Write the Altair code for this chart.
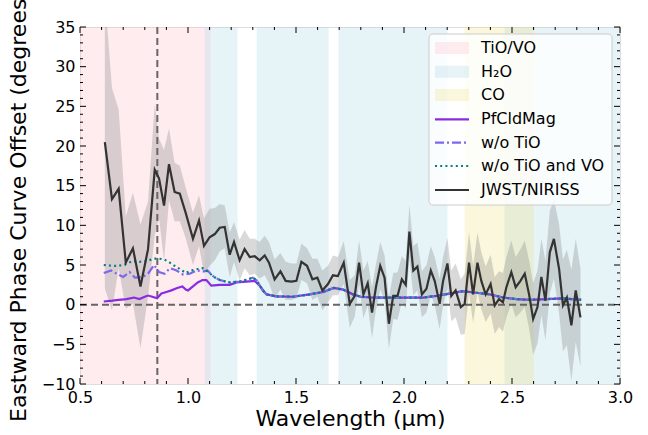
import altair as alt
import pandas as pd
import numpy as np

# ---------------- data ----------------
jwst_wl = [0.615, 0.648, 0.679, 0.712, 0.745, 0.780, 0.815, 0.846, 0.866, 0.889,
           0.912, 0.938, 0.962, 0.989, 1.023, 1.051, 1.074, 1.100, 1.124, 1.147,
           1.170, 1.193, 1.213, 1.239, 1.262, 1.286, 1.309, 1.332, 1.355, 1.375,
           1.401, 1.428, 1.452, 1.479, 1.502, 1.525, 1.551, 1.576, 1.599, 1.622,
           1.648, 1.671, 1.694, 1.721, 1.749, 1.772, 1.792, 1.812, 1.832, 1.852,
           1.870, 1.890, 1.910, 1.930, 1.950, 1.970, 1.990, 2.008, 2.025, 2.043,
           2.062, 2.083, 2.104, 2.124, 2.142, 2.165, 2.181, 2.201, 2.219, 2.239,
           2.263, 2.281, 2.301, 2.320, 2.340, 2.358, 2.378, 2.401, 2.420, 2.440,
           2.458, 2.474, 2.497, 2.517, 2.539, 2.559, 2.579, 2.598, 2.618, 2.636,
           2.655, 2.675, 2.694, 2.718, 2.736, 2.754, 2.775, 2.795, 2.817]
jwst_off = [20.5, 13.3, 14.6, 5.3, 7.1, 2.3, 7.0, 17.0, 15.9, 12.5,
            17.7, 14.2, 14.0, 11.6, 8.3, 10.6, 7.4, 8.5, 8.9, 9.7,
            9.8, 6.3, 7.9, 5.6, 7.0, 6.0, 6.1, 5.6, 6.2, 5.3,
            3.2, 4.2, 3.0, 2.9, 3.0, 5.4, 4.9, 3.2, 3.4, 1.8,
            2.6, 3.7, 3.6, 5.3, 0.1, 1.1, 5.3, 1.3, 2.7, -1.0,
            2.2, 4.9, 3.4, -2.4, 1.1, 1.1, 3.2, 2.5, 9.2, 4.3,
            4.8, 1.3, 2.0, 4.3, 3.0, 0.1, 3.0, 5.2, 1.1, 1.8,
            -0.3, 0.1, 5.3, 1.3, 5.3, 3.0, 1.3, 2.6, -0.1, 0.7,
            0.3, 2.2, 4.1, 2.2, 3.0, 3.9, 1.3, -1.8, -0.3, 3.5,
            0.5, 6.6, 8.3, 4.5, -0.1, 0.9, -2.6, 1.8, -1.6]
jwst_err = [18.5, 14.0, 10.0, 5.8, 7.0, 7.8, 6.0, 8.3, 5.0, 7.0,
            4.5, 3.7, 3.5, 3.2, 3.3, 3.2, 3.5, 3.6, 3.3, 3.0,
            2.7, 2.8, 2.5, 2.6, 2.4, 2.3, 2.2, 2.3, 2.5, 2.6,
            2.5, 2.3, 2.4, 2.3, 2.2, 2.3, 2.2, 2.6, 2.4, 2.5,
            2.3, 2.5, 2.4, 2.7, 3.0, 2.6, 2.8, 3.0, 2.8, 3.2,
            2.9, 3.0, 2.8, 3.2, 2.9, 3.0, 2.9, 3.0, 3.4, 3.1,
            3.0, 2.9, 3.0, 3.1, 3.0, 3.2, 3.0, 3.2, 3.2, 3.4,
            3.5, 3.8, 3.9, 3.6, 3.8, 3.6, 3.5, 3.7, 3.6, 3.5,
            3.7, 3.8, 4.0, 3.8, 4.0, 4.2, 4.3, 4.5, 4.6, 4.8,
            5.0, 5.2, 5.0, 5.6, 5.8, 6.0, 7.0, 6.5, 6.2]

# shared model tail (all three models coincide beyond ~1.36 um)
tail_wl = [1.363, 1.409, 1.486, 1.563, 1.625, 1.675, 1.718, 1.764, 1.800, 1.857,
           1.965, 2.088, 2.150, 2.211, 2.273, 2.335, 2.397, 2.458, 2.520, 2.582,
           2.660, 2.736, 2.820]
tail_off = [1.3, 1.05, 1.0, 1.3, 1.6, 2.1, 1.9, 1.3, 1.0, 0.9,
            0.9, 0.9, 1.1, 1.4, 1.7, 1.5, 1.3, 0.9, 0.7, 0.6,
            0.7, 0.8, 0.6]

pf_head_wl = [0.61, 0.65, 0.68, 0.715, 0.75, 0.775, 0.80, 0.815, 0.835, 0.857,
              0.877, 0.90, 0.923, 0.95, 0.974, 0.99, 1.0, 1.023, 1.045, 1.067,
              1.085, 1.108, 1.147, 1.193, 1.224, 1.270, 1.309, 1.332]
pf_head_off = [0.4, 0.5, 0.6, 0.7, 0.9, 0.7, 1.0, 1.15, 1.0, 0.8,
               1.4, 1.6, 1.8, 2.1, 2.3, 1.9, 1.8, 2.3, 2.8, 3.1,
               3.1, 2.4, 2.5, 2.5, 2.8, 2.9, 3.0, 2.4]

notio_head_wl = [0.61, 0.645, 0.676, 0.70, 0.73, 0.755, 0.79, 0.815, 0.843, 0.866,
                 0.892, 0.916, 0.947, 0.977, 1.008, 1.04, 1.07, 1.09, 1.12, 1.147,
                 1.193, 1.24, 1.278, 1.30, 1.32, 1.345]
notio_head_off = [4.0, 4.3, 3.8, 3.5, 4.1, 3.4, 3.5, 3.9, 5.0, 4.1,
                  3.9, 4.6, 4.3, 3.8, 3.9, 4.3, 4.2, 4.3, 3.5, 3.1,
                  2.8, 2.9, 3.2, 3.4, 3.0, 1.8]

notiovo_head_wl = [0.61, 0.65, 0.68, 0.71, 0.745, 0.775, 0.81, 0.84, 0.866, 0.89,
                   0.916, 0.938, 0.968, 0.99, 1.013, 1.045, 1.068, 1.09, 1.12, 1.147,
                   1.193, 1.24, 1.278, 1.30, 1.32, 1.345]
notiovo_head_off = [5.0, 4.9, 4.9, 5.1, 5.5, 5.4, 5.5, 5.8, 5.8, 5.7,
                    5.3, 4.9, 4.4, 4.0, 4.3, 4.5, 4.6, 4.2, 3.5, 3.1,
                    2.8, 2.9, 3.2, 3.4, 3.0, 1.8]

tiovo_start = [0.5]
tiovo_end = [1.104]
h2o_start = [1.077, 1.318, 1.696, 2.466]
h2o_end = [1.229, 1.651, 2.201, 3.0]
co_start = [2.281]
co_end = [2.601]

vline_x = [0.858]
hline_y = [0.0]

x_major = [0.5, 1.0, 1.5, 2.0, 2.5, 3.0]
y_major = [-10, -5, 0, 5, 10, 15, 20, 25, 30, 35]

legend_labels = ["TiO/VO", "H₂O", "CO", "PfCldMag", "w/o TiO", "w/o TiO and VO", "JWST/NIRISS"]

# ---------------- layout ----------------
W, H = 540, 357
FONT = "DejaVu Sans"
xs = alt.Scale(domain=[0.5, 3.0], nice=False, zero=False, padding=0)
ys = alt.Scale(domain=[-10, 35], nice=False, zero=False, padding=0)

XAX = alt.Axis(values=x_major, format=".1f", ticks=False, domain=False, grid=False,
               labelFontSize=16, labelFont=FONT, labelColor="black", labelPadding=5,
               labelFlush=False, labelOverlap=False,
               title="Wavelength (µm)", titleFont=FONT, titleFontSize=22,
               titleFontWeight="normal", titleColor="black",
               titleY=34, titleBaseline="middle")
YAX = alt.Axis(values=y_major, format="d", ticks=False, domain=False, grid=False,
               labelFontSize=16, labelFont=FONT, labelColor="black", labelPadding=5,
               labelFlush=False, labelOverlap=False,
               title="Eastward Phase Curve Offset (degrees)", titleFont=FONT,
               titleFontSize=22, titleFontWeight="normal", titleColor="black",
               titleX=-62, titleY=H / 2, titleAngle=270, titleBaseline="middle",
               titleAlign="center")


def X(field):
    return alt.X(field, scale=xs, axis=XAX)


def Y(field):
    return alt.Y(field, scale=ys, axis=YAX)


C_TIO = "#FFC0CB"
C_H2O = "#ADD8E6"
C_CO = "#F0E68C"
C_PF = "#8A2BE2"
C_NOTIO = "#7B68EE"
C_NOTIOVO = "#008080"
C_JWST = "#333333"
DASHDOT = [9, 3, 2, 3]
DOT = [2, 3.2]

jw = pd.DataFrame({"wl": jwst_wl, "off": jwst_off, "err": jwst_err})
jw["lo"] = jw["off"] - jw["err"]
jw["hi"] = jw["off"] + jw["err"]

pf = pd.DataFrame({"wl": pf_head_wl + tail_wl, "off": pf_head_off + tail_off})
nt = pd.DataFrame({"wl": notio_head_wl + tail_wl, "off": notio_head_off + tail_off})
ntv = pd.DataFrame({"wl": notiovo_head_wl + tail_wl, "off": notiovo_head_off + tail_off})


def band_layer(starts, ends, color):
    df = pd.DataFrame({"s": starts, "e": ends})
    return alt.Chart(df).mark_rect(color=color, opacity=0.3, clip=True).encode(
        x=X("s:Q"), x2="e:Q", y=alt.value(0), y2=alt.value(H))


err_band = alt.Chart(jw).mark_area(color="gray", opacity=0.3, clip=True).encode(
    x=X("wl:Q"), y=Y("lo:Q"), y2="hi:Q")

hline = alt.Chart(pd.DataFrame({"y": hline_y})).mark_rule(
    color="#666666", strokeWidth=2, strokeDash=[7, 4]).encode(
    y=Y("y:Q"), x=alt.value(0), x2=alt.value(W))
vline = alt.Chart(pd.DataFrame({"x": vline_x})).mark_rule(
    color="#666666", strokeWidth=2, strokeDash=[7, 4]).encode(
    x=X("x:Q"), y=alt.value(0), y2=alt.value(H))


def line_layer(df, color, dash=None, width=2.2):
    kw = dict(color=color, strokeWidth=width, clip=True)
    if dash is not None:
        kw["strokeDash"] = dash
    return alt.Chart(df).mark_line(**kw).encode(x=X("wl:Q"), y=Y("off:Q"))


l_pf = line_layer(pf, C_PF)
l_nt = line_layer(nt, C_NOTIO, DASHDOT)
l_ntv = line_layer(ntv, C_NOTIOVO, DOT)
l_jw = line_layer(jw, C_JWST, None, 2.2)

# inward ticks on all four sides
x_minor = [round(v, 2) for v in np.arange(0.6, 3.0, 0.1) if round(v * 10) % 5 != 0]
y_minor = [v for v in range(-9, 35) if v % 5 != 0]


def xtick_layer(vals, length):
    df = pd.DataFrame({"v": vals})
    bot = alt.Chart(df).mark_rule(color="black", strokeWidth=1).encode(
        x=X("v:Q"), y=alt.value(H), y2=alt.value(H - length))
    top = alt.Chart(df).mark_rule(color="black", strokeWidth=1).encode(
        x=X("v:Q"), y=alt.value(0), y2=alt.value(length))
    return [bot, top]


def ytick_layer(vals, length):
    df = pd.DataFrame({"v": vals})
    left = alt.Chart(df).mark_rule(color="black", strokeWidth=1).encode(
        y=Y("v:Q"), x=alt.value(0), x2=alt.value(length))
    right = alt.Chart(df).mark_rule(color="black", strokeWidth=1).encode(
        y=Y("v:Q"), x=alt.value(W), x2=alt.value(W - length))
    return [left, right]


ticks = (xtick_layer(x_major, 6) + xtick_layer(x_minor, 3)
         + ytick_layer(y_major, 6) + ytick_layer(y_minor, 3))

# ---------------- legend ----------------
dummy = pd.DataFrame({"d": [0]})
leg = [alt.Chart(dummy).mark_rect(fill="white", fillOpacity=0.8, stroke="#cccccc",
                                  strokeWidth=1, cornerRadius=4).encode(
    x=alt.value(349), x2=alt.value(532), y=alt.value(7), y2=alt.value(178))]
ycs = [21, 44.7, 68, 92.3, 115.7, 139, 163]
SX0, SX1, TX = 355, 389, 401
for lab, yc, kind, col, dash in zip(
        legend_labels, ycs,
        ["rect", "rect", "rect", "line", "line", "line", "line"],
        [C_TIO, C_H2O, C_CO, C_PF, C_NOTIO, C_NOTIOVO, C_JWST],
        [None, None, None, None, DASHDOT, DOT, None]):
    if kind == "rect":
        leg.append(alt.Chart(dummy).mark_rect(color=col, opacity=0.3).encode(
            x=alt.value(SX0), x2=alt.value(SX1), y=alt.value(yc - 6), y2=alt.value(yc + 6)))
    else:
        kw = dict(color=col, strokeWidth=2.2)
        if dash is not None:
            kw["strokeDash"] = dash
        leg.append(alt.Chart(dummy).mark_rule(**kw).encode(
            x=alt.value(SX0), x2=alt.value(SX1), y=alt.value(yc)))
    leg.append(alt.Chart(dummy).mark_text(align="left", baseline="middle", fontSize=16,
                                          font=FONT, color="black").encode(
        x=alt.value(TX), y=alt.value(yc), text=alt.value(lab)))

layers = [band_layer(tiovo_start, tiovo_end, C_TIO),
          band_layer(h2o_start, h2o_end, C_H2O),
          band_layer(co_start, co_end, C_CO),
          err_band, hline, vline, l_pf, l_nt, l_ntv, l_jw] + ticks + leg

chart = alt.layer(*layers).properties(
    width=W, height=H,
    autosize=alt.AutoSizeParams(type="none"),
    padding={"left": 80, "top": 27, "right": 28, "bottom": 51},
).configure_view(stroke="black", strokeWidth=1.2).configure(font=FONT)

chart.save("out.html", embed_options={"renderer": "svg", "actions": False})
